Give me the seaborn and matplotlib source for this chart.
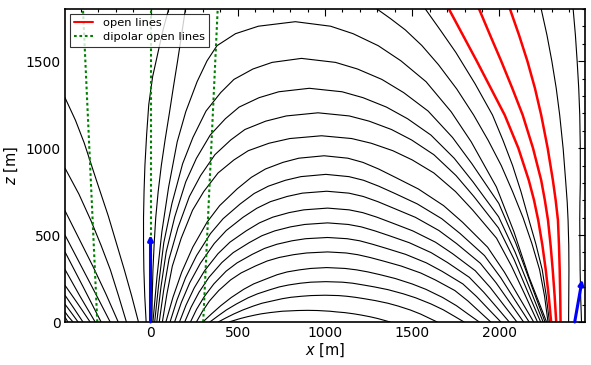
import matplotlib
matplotlib.use('Agg')
import matplotlib.pyplot as plt
import seaborn as sns
import pandas as pd
from matplotlib.lines import Line2D
from matplotlib.ticker import MultipleLocator

sns.set_style('white')
plt.rcParams['font.family'] = ['DejaVu Sans']
plt.rcParams.update({'text.color': 'black', 'axes.labelcolor': 'black',
                     'xtick.color': 'black', 'ytick.color': 'black'})

# field lines, (x [m], z [m]) points per line
left_lines = [
    [(-473, 0), (-490, 28)],
    [(-444, 0), (-470, 30), (-490, 58)],
    [(-415, 0), (-455, 55), (-490, 102)],
    [(-387, 0), (-440, 80), (-490, 154)],
    [(-346, 0), (-420, 110), (-490, 211)],
    [(-317, 0), (-405, 150), (-490, 302)],
    [(-283, 0), (-385, 200), (-490, 403)],
    [(-231, 0), (-295, 125), (-360, 250), (-425, 375), (-490, 500)],
    [(-185, 0), (-255, 160), (-330, 320), (-410, 480), (-490, 640)],
    [(-138, 0), (-183, 150), (-230, 300), (-283, 440), (-340, 580), (-410, 735), (-490, 885)],
    [(-69, 0), (-108, 150), (-150, 300), (-196, 455), (-242, 610), (-310, 815), (-380, 1030),
     (-430, 1160), (-490, 1290)],
]

arch_lines = [
    [(14, 0), (37, 259), (65, 518), (104, 777), (153, 1036), (202, 1209), (267, 1382),
     (324, 1502), (381, 1589), (487, 1658), (618, 1701), (830, 1727),
     (1032, 1701), (1161, 1658), (1305, 1589), (1435, 1502), (1579, 1382), (1723, 1209),
     (1838, 1036), (1982, 777), (2083, 518), (2169, 259), (2270, 0)],
    [(24, 0), (48, 227), (76, 455), (123, 682), (184, 910), (243, 1061), (318, 1213),
     (402, 1319), (478, 1395), (587, 1455), (697, 1493), (865, 1516),
     (1060, 1493), (1186, 1455), (1326, 1395), (1451, 1319), (1591, 1213), (1731, 1061),
     (1842, 910), (1996, 682), (2093, 455), (2177, 227), (2261, 0)],
    [(36, 0), (60, 202), (90, 403), (139, 605), (202, 806), (263, 941), (342, 1075),
     (429, 1169), (508, 1236), (622, 1290), (735, 1324), (910, 1344),
     (1098, 1324), (1218, 1290), (1352, 1236), (1473, 1169), (1607, 1075), (1741, 941),
     (1848, 806), (1995, 605), (2089, 403), (2170, 202), (2250, 0)],
    [(50, 0), (75, 180), (106, 361), (157, 541), (223, 722), (287, 842), (369, 962),
     (460, 1047), (541, 1107), (660, 1155), (778, 1185), (960, 1203),
     (1139, 1185), (1253, 1155), (1381, 1107), (1496, 1047), (1624, 962), (1751, 842),
     (1853, 722), (1994, 541), (2083, 361), (2159, 180), (2236, 0)],
    [(68, 0), (94, 161), (125, 321), (176, 482), (241, 643), (305, 750), (387, 857),
     (478, 932), (560, 985), (679, 1028), (798, 1055), (980, 1071),
     (1153, 1055), (1265, 1028), (1389, 985), (1500, 932), (1624, 857), (1748, 750),
     (1847, 643), (1983, 482), (2069, 321), (2144, 161), (2218, 0)],
    [(88, 0), (129, 143), (179, 287), (242, 430), (324, 574), (396, 669), (496, 765),
     (578, 832), (659, 880), (759, 918), (850, 942), (995, 956),
     (1131, 942), (1217, 918), (1307, 880), (1403, 832), (1535, 765), (1680, 669),
     (1788, 574), (1932, 430), (2028, 287), (2112, 143), (2196, 0)],
    [(112, 0), (152, 127), (201, 255), (264, 382), (344, 509), (416, 594), (514, 679),
     (594, 739), (675, 781), (773, 815), (862, 836), (1005, 849),
     (1137, 836), (1221, 815), (1308, 781), (1401, 739), (1529, 679), (1669, 594),
     (1774, 509), (1914, 382), (2007, 255), (2088, 127), (2170, 0)],
    [(138, 0), (177, 113), (225, 226), (286, 338), (365, 451), (434, 526), (530, 602),
     (609, 654), (687, 692), (783, 722), (870, 741), (1010, 752),
     (1137, 741), (1219, 722), (1303, 692), (1394, 654), (1518, 602), (1653, 526),
     (1754, 451), (1890, 338), (1980, 226), (2059, 113), (2138, 0)],
    [(166, 0), (204, 98), (251, 197), (310, 295), (387, 393), (455, 459), (548, 524),
     (624, 570), (701, 603), (794, 629), (879, 645), (1015, 655),
     (1138, 645), (1216, 629), (1297, 603), (1384, 570), (1503, 524), (1633, 459),
     (1731, 393), (1861, 295), (1948, 197), (2024, 98), (2100, 0)],
    [(196, 0), (233, 86), (278, 171), (335, 257), (409, 342), (474, 399), (565, 456),
     (638, 496), (712, 524), (802, 547), (884, 561), (1015, 570),
     (1133, 561), (1208, 547), (1286, 524), (1369, 496), (1483, 456), (1608, 399),
     (1702, 342), (1827, 257), (1910, 171), (1983, 86), (2056, 0)],
    [(229, 0), (264, 73), (308, 146), (363, 219), (433, 292), (496, 340), (583, 389),
     (653, 423), (724, 447), (811, 467), (889, 479), (1015, 486),
     (1127, 479), (1199, 467), (1273, 447), (1353, 423), (1462, 389), (1581, 340),
     (1670, 292), (1790, 219), (1869, 146), (1938, 73), (2008, 0)],
    [(263, 0), (297, 60), (338, 121), (391, 181), (459, 242), (519, 282), (601, 322),
     (669, 351), (737, 371), (819, 387), (895, 397), (1015, 403),
     (1121, 397), (1188, 387), (1258, 371), (1333, 351), (1436, 322), (1548, 282),
     (1632, 242), (1744, 181), (1819, 121), (1885, 60), (1950, 0)],
    [(300, 0), (350, 47), (403, 94), (463, 141), (534, 188), (591, 219), (669, 250),
     (726, 272), (783, 288), (854, 300), (918, 308), (1010, 313),
     (1115, 308), (1180, 300), (1246, 288), (1316, 272), (1403, 250), (1499, 219),
     (1578, 188), (1674, 141), (1753, 94), (1818, 47), (1884, 0)],
    [(340, 0), (387, 35), (436, 70), (493, 104), (559, 139), (613, 162), (686, 186),
     (739, 202), (792, 213), (859, 223), (919, 229), (1005, 232),
     (1100, 229), (1159, 223), (1219, 213), (1282, 202), (1361, 186), (1449, 162),
     (1520, 139), (1607, 104), (1678, 70), (1738, 35), (1797, 0)],
    [(388, 0), (431, 23), (477, 46), (529, 69), (590, 92), (639, 108), (706, 123),
     (755, 134), (804, 142), (865, 148), (920, 152), (1000, 154),
     (1077, 152), (1125, 148), (1174, 142), (1225, 134), (1289, 123), (1360, 108),
     (1418, 92), (1489, 69), (1547, 46), (1595, 23), (1643, 0)],
    [(450, 0), (482, 10), (515, 20), (554, 30), (599, 40), (635, 47), (684, 54),
     (720, 58), (756, 62), (801, 64), (842, 66), (900, 67),
     (957, 66), (992, 64), (1028, 62), (1066, 58), (1113, 54), (1165, 47),
     (1207, 40), (1259, 30), (1302, 20), (1338, 10), (1373, 0)],
]

top_lines = [
    [(-25, 0), (-33, 150), (-38, 300), (-40, 450), (-40, 600), (-37, 750), (-32, 900),
     (-22, 1080), (-10, 1250), (12, 1410), (46, 1564), (72, 1680), (104, 1800)],
    [(8, 0), (10, 150), (14, 300), (21, 450), (30, 600), (44, 750), (62, 900),
     (84, 1050), (108, 1200), (131, 1350), (155, 1500), (178, 1650), (200, 1800)],
    [(1298, 1800), (1375, 1745), (1460, 1680), (1555, 1590), (1650, 1480), (1755, 1340),
     (1852, 1190), (1935, 1045), (2010, 900), (2075, 750), (2135, 600), (2186, 450),
     (2230, 300), (2258, 150), (2278, 0)],
    [(1575, 1800), (1660, 1680), (1750, 1550), (1860, 1370), (1960, 1190), (2020, 1045),
     (2075, 900), (2123, 750), (2165, 600), (2208, 450), (2245, 300), (2268, 150), (2286, 0)],
    [(2239, 1800), (2272, 1650), (2300, 1500), (2325, 1345), (2345, 1190), (2365, 995),
     (2380, 800), (2388, 690), (2393, 585), (2397, 440), (2398, 300), (2397, 150), (2396, 0)],
    [(2422, 1800), (2435, 1650), (2445, 1500), (2454, 1345), (2460, 1190), (2463, 1000),
     (2463, 800), (2461, 690), (2460, 585), (2461, 440), (2462, 300), (2465, 150), (2470, 0)],
]

open_lines = [
    [(1710, 1800), (1790, 1650), (1870, 1500), (1950, 1345), (2030, 1190), (2108, 1000),
     (2168, 815), (2198, 700), (2222, 585), (2246, 440), (2265, 300), (2282, 150), (2296, 0)],
    [(1883, 1800), (1946, 1650), (2010, 1500), (2073, 1345), (2133, 1190), (2192, 1000),
     (2239, 815), (2260, 700), (2278, 585), (2293, 440), (2305, 300), (2316, 150), (2325, 0)],
    [(2060, 1800), (2112, 1650), (2160, 1500), (2203, 1345), (2239, 1190), (2276, 1000),
     (2306, 815), (2322, 700), (2335, 585), (2341, 440), (2345, 300), (2348, 150), (2350, 0)],
]

dipolar_lines = [
    [(-305, 0), (-387, 1800)],
    [(0, 0), (0, 1800)],
    [(302, 0), (385, 1800)],
]

# (base, tip) of the two blue arrows
arrows = [
    ((0, 0), (0, 500)),
    ((2431, 0), (2474, 244)),
]


def to_frame(lines):
    rows = []
    for i, line in enumerate(lines):
        for k, (x, z) in enumerate(line):
            rows.append({'line': i, 'order': k, 'x': x, 'z': z})
    return pd.DataFrame(rows)


fig = plt.figure(figsize=(5.91, 3.65), dpi=100)
ax = fig.add_axes([65 / 591, 1 - 322 / 365, 520 / 591, 313 / 365])

black = to_frame(left_lines + arch_lines + top_lines)
sns.lineplot(data=black, x='x', y='z', units='line', estimator=None, sort=False,
             color='black', lw=0.8, legend=False, ax=ax)

red = to_frame(open_lines)
sns.lineplot(data=red, x='x', y='z', units='line', estimator=None, sort=False,
             color='red', lw=1.8, legend=False, ax=ax)

for ln in ax.lines:
    ln.set_solid_joinstyle('round')

for base, tip in arrows:
    ax.annotate('', xy=tip, xytext=base,
                arrowprops=dict(arrowstyle='-|>', color='blue', lw=2.2,
                                mutation_scale=7, shrinkA=0, shrinkB=0))

green = to_frame(dipolar_lines)
sns.lineplot(data=green, x='x', y='z', units='line', estimator=None, sort=False,
             color='#008000', lw=1.5, dashes=False, legend=False, ax=ax)
for ln in ax.lines[-len(dipolar_lines):]:
    ln.set_dashes((1.3, 1.3))

ax.set_xlim(-490, 2490)
ax.set_ylim(0, 1800)
ax.xaxis.set_major_locator(MultipleLocator(500))
ax.xaxis.set_minor_locator(MultipleLocator(100))
ax.yaxis.set_major_locator(MultipleLocator(500))
ax.yaxis.set_minor_locator(MultipleLocator(100))
ax.tick_params(which='both', direction='in', top=True, right=True, labelsize=10,
               color='black', labelcolor='black', width=0.8)
ax.tick_params(which='major', length=5, pad=3)
ax.tick_params(which='minor', length=2.5)
for sp in ax.spines.values():
    sp.set_color('black')
    sp.set_linewidth(1.2)

ax.set_xlabel('$x$ [m]', fontsize=10.5, labelpad=1, color='black')
ax.set_ylabel('$z$ [m]', fontsize=10.5, labelpad=4, color='black')

handles = [
    Line2D([], [], color='red', lw=1.5),
    Line2D([], [], color='#008000', lw=1.5, dashes=(1.3, 1.3)),
]
leg = ax.legend(handles, ['open lines', 'dipolar open lines'], loc='upper left',
                fontsize=8.2, frameon=True, fancybox=False, handlelength=1.7,
                borderaxespad=0.4, labelspacing=0.35, borderpad=0.4, handletextpad=0.8)
leg.get_frame().set_edgecolor('black')
leg.get_frame().set_linewidth(0.8)
for t in leg.get_texts():
    t.set_color('black')

fig.savefig('out.png', dpi=100)
